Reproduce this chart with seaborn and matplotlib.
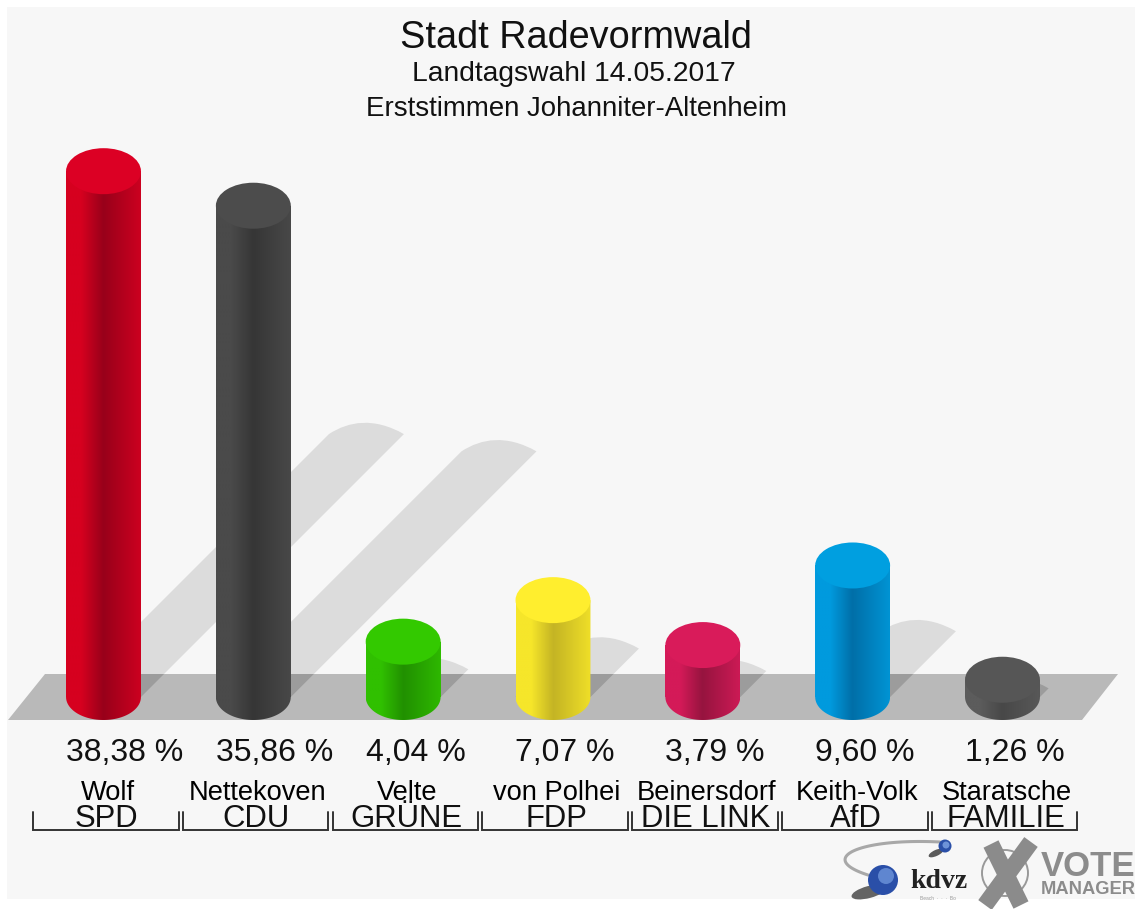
import matplotlib
matplotlib.use("Agg")
import matplotlib.pyplot as plt
import seaborn as sns
import numpy as np
import pandas as pd
from matplotlib.colors import LinearSegmentedColormap
from matplotlib.patches import Circle, Ellipse, PathPatch, Polygon, Rectangle
from matplotlib.path import Path
from matplotlib.transforms import Affine2D

sns.set_theme(style="white")
plt.rcParams["font.family"] = ["Liberation Sans", "DejaVu Sans"]

# Daten
parties = ["SPD", "CDU", "GRÜNE", "FDP", "DIE LINK", "AfD", "FAMILIE"]
names = ["Wolf", "Nettekoven", "Velte", "von Polhei", "Beinersdorf", "Keith-Volk", "Staratsche"]
values = [38.38, 35.86, 4.04, 7.07, 3.79, 9.60, 1.26]
labels = ["38,38 %", "35,86 %", "4,04 %", "7,07 %", "3,79 %", "9,60 %", "1,26 %"]

# Farben: Deckel, Rand links, Mitte, Rand rechts
cap_colors = ["#dc0024", "#4c4c4c", "#33c900", "#ffee2e", "#d91b5a", "#009fe0", "#565656"]
left_colors = ["#d6001f", "#4a4a4a", "#30c000", "#f6e62a", "#d41a58", "#009ade", "#5c5c5c"]
mid_colors = ["#98001a", "#363636", "#219000", "#c4b424", "#96143f", "#006fa8", "#484848"]
right_colors = ["#cc0020", "#484848", "#2eb800", "#efdf28", "#cc1a55", "#0094d4", "#585858"]

W, H = 1135, 909
X0, STEP = 103.5, 149.83   # Pixel je Kategorie
Y0, SCALE = 697, 13.7      # Pixel je Prozent
BAR_W = 0.5
RY = 23 / SCALE

fig = plt.figure(figsize=(W / 100, H / 100), dpi=100, facecolor="white")
ax = fig.add_axes([0, 0, 1, 1])
px = Affine2D().scale(1, -1).translate(0, H)   # Pixel von oben links


def xpos(i):
    return X0 + i * STEP


df = pd.DataFrame({"party": parties, "value": values})
sns.barplot(data=df, x="party", y="value", hue="party", palette=cap_colors, width=BAR_W,
            dodge=False, legend=False, saturation=1, linewidth=0, ax=ax, zorder=2)
bars = sorted(ax.patches, key=lambda b: b.get_x())

xlim = (-X0 / STEP, (W - X0) / STEP)
ylim = ((Y0 - H) / SCALE, Y0 / SCALE)
ax.set_xlim(xlim)
ax.set_ylim(ylim)
ax.set_axis_off()

# Hintergrund
ax.add_patch(Rectangle((7, 7), W - 7, 892, transform=px, fc="#f7f7f7", ec="none", zorder=0))


def shadow_path(i, val):
    # Schatten in Pixeln, Laenge folgt dem Wert
    d = val * SCALE / 2
    cx = xpos(i)
    l, r = cx - 37.5, cx + 37.5
    y = Y0 - d
    verts = [(l, Y0), (l + d, y), (l + d + 20, y - 13), (r + d - 30, y - 17),
             (r + d, y), (r, Y0), (l, Y0)]
    codes = [Path.MOVETO, Path.LINETO, Path.CURVE4, Path.CURVE4, Path.CURVE4,
             Path.LINETO, Path.CLOSEPOLY]
    return Path(verts, codes)


for i, val in enumerate(values):
    ax.add_patch(PathPatch(shadow_path(i, val), transform=px, fc="#dcdcdc", ec="none", zorder=0.5))

# Boden
floor = Polygon([(8, 720), (1082, 720), (1118, 674), (45, 674)], closed=True,
                transform=px, fc="#b9b9b9", ec="none", zorder=0.7)
ax.add_patch(floor)
for i, val in enumerate(values):
    p = PathPatch(shadow_path(i, val), transform=px, fc="#9c9c9c", ec="none", zorder=0.8)
    ax.add_patch(p)
    p.set_clip_path(floor)

# Zylinder
for i, bar in enumerate(bars):
    x0 = bar.get_x()
    x1 = x0 + bar.get_width()
    val = bar.get_height()
    t = np.linspace(0, np.pi, 60)
    arc = np.column_stack([(x0 + x1) / 2 + np.cos(t) * BAR_W / 2, -np.sin(t) * RY])
    body = np.vstack([[[x0, val], [x1, val]], arc])
    clip = Polygon(body, closed=True, transform=ax.transData, fc="none", ec="none")
    ax.add_patch(clip)
    cmap = LinearSegmentedColormap.from_list(
        "zyl", [(0, left_colors[i]), (0.2, left_colors[i]), (0.5, mid_colors[i]), (1, right_colors[i])])
    im = ax.imshow(np.linspace(0, 1, 200)[None, :], extent=(x0, x1, -RY, val), cmap=cmap,
                   aspect="auto", zorder=3, interpolation="bilinear")
    im.set_clip_path(clip)
    ax.add_patch(Ellipse((i, val), BAR_W, 2 * RY, fc=cap_colors[i], ec="none", zorder=4))

ax.set_xlim(xlim)
ax.set_ylim(ylim)


def tx(x, y, s, **kw):
    kw.setdefault("color", "#111111")
    kw.setdefault("va", "center")
    kw.setdefault("ha", "center")
    return ax.text(x, y, s, transform=px, **kw)


# Titel
tx(576, 38, "Stadt Radevormwald", fontsize=27.3)
tx(574, 74, "Landtagswahl 14.05.2017", fontsize=20.3)
tx(576, 109, "Erststimmen Johanniter-Altenheim", fontsize=19.9)

# Beschriftung
for i in range(len(values)):
    cx = xpos(i)
    tx(cx - 37.5, 753, labels[i], ha="left", fontsize=23)
    tx(cx + 4, 793, names[i], fontsize=19.6, color="#000000")
    tx(cx + 3, 819, parties[i], fontsize=22.4)
    l, r = cx - 70.5, cx + 75
    ax.plot([l, l, r, r], [812, 830, 830, 812], transform=px, color="#333333", lw=1.4,
            solid_joinstyle="miter", zorder=5)

# Logo kdvz
t = np.linspace(0, 1, 80)
sw_x = (1 - t) ** 3 * 940 + 3 * (1 - t) ** 2 * t * 860 + 3 * (1 - t) * t ** 2 * 815 + t ** 3 * 868
sw_y = (1 - t) ** 3 * 842 + 3 * (1 - t) ** 2 * t * 838 + 3 * (1 - t) * t ** 2 * 858 + t ** 3 * 875
ax.plot(sw_x, sw_y, transform=px, color="#a8a8a8", lw=2.2, zorder=5)
ax.add_patch(Ellipse((869, 892), 36, 12, angle=-15, transform=px, fc="#333333", ec="none", alpha=0.75, zorder=5))
ax.add_patch(Ellipse((936, 853), 16, 6, angle=-25, transform=px, fc="#333333", ec="none", alpha=0.8, zorder=5))
ax.add_patch(Circle((883, 880), 15, transform=px, fc="#2a4fa8", ec="none", zorder=6))
ax.add_patch(Circle((886, 876), 8, transform=px, fc="#5f86d0", ec="none", zorder=6))
ax.add_patch(Circle((945, 846), 6.5, transform=px, fc="#2a4fa8", ec="none", zorder=6))
ax.add_patch(Circle((946, 845), 3.5, transform=px, fc="#6d92d8", ec="none", zorder=6))
tx(939, 882, "kdvz", fontsize=20, family="Liberation Serif", weight="bold", color="#222222")
tx(938, 898, "Beach  ·  ·  ·  Bo", fontsize=3.5, color="#999999")

# Logo Vote Manager
ax.add_patch(Circle((1005, 873), 23, transform=px, fc="none", ec="#999999", lw=1.4, zorder=5))
ax.plot([991, 1021], [844, 905], transform=px, color="#8b8b8b", lw=12, solid_capstyle="butt", zorder=6)
ax.plot([1031, 985], [842, 905], transform=px, color="#8b8b8b", lw=12, solid_capstyle="butt", zorder=6)
tx(1041, 866, "VOTE", ha="left", fontsize=25, weight="bold", color="#8c8c8c")
tx(1041, 889, "MANAGER", ha="left", fontsize=13.2, weight="bold", color="#8c8c8c")

fig.savefig("out.png", dpi=100, facecolor="white")
